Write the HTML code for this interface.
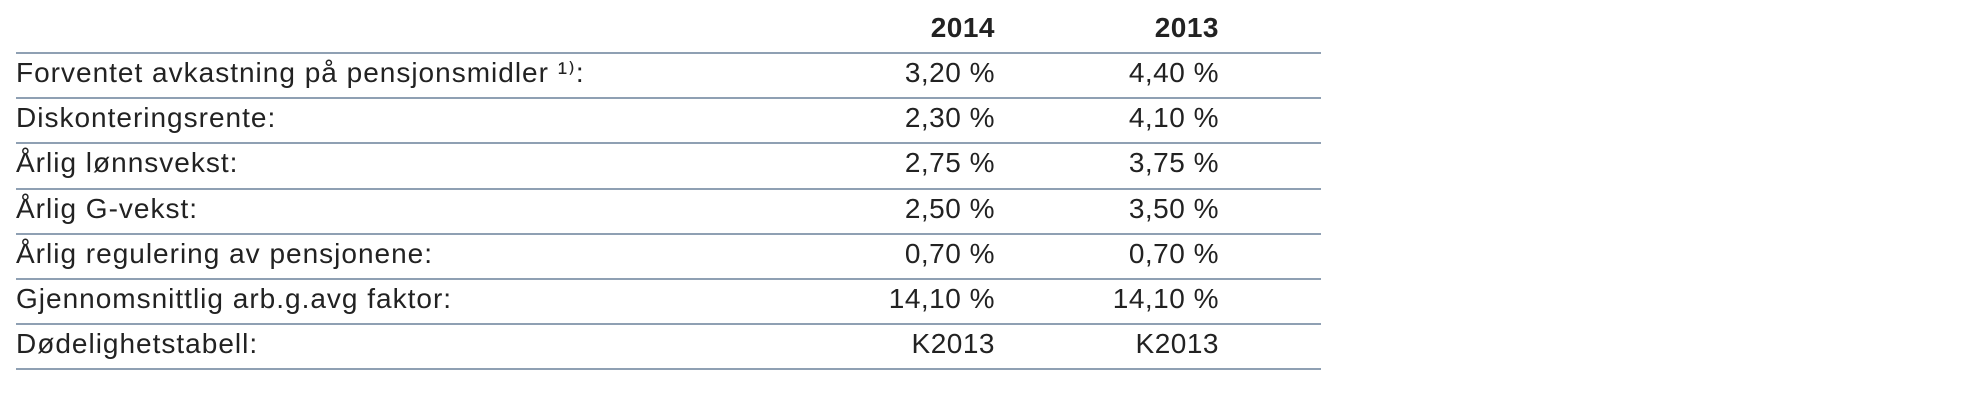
<!DOCTYPE html>
<html><head><meta charset="utf-8"><style>
body{margin:0;width:1985px;height:403px;background:#fff;overflow:hidden;font-family:"Liberation Sans",sans-serif;color:#222}
.t{position:absolute;font-size:28px;white-space:nowrap;line-height:1;letter-spacing:1px}
.r{text-align:right;letter-spacing:0.5px}
.h{font-weight:bold}
.ln{position:absolute;left:16px;width:1305px;height:2px;background:#8fa0b3}
</style></head><body>
<div id="root"></div>
<script>
const labels=["Forventet avkastning på pensjonsmidler ¹⁾:","Diskonteringsrente:","Årlig lønnsvekst:","Årlig G-vekst:","Årlig regulering av pensjonene:","Gjennomsnittlig arb.g.avg faktor:","Dødelighetstabell:"];
const years=["2014","2013"];
const col2014=["3,20 %","2,30 %","2,75 %","2,50 %","0,70 %","14,10 %","K2013"];
const col2013=["4,40 %","4,10 %","3,75 %","3,50 %","0,70 %","14,10 %","K2013"];
const root=document.getElementById('root');
const rightEdges=[995,1219];
function txt(s,x,y,cls,right){const d=document.createElement('div');d.className='t '+cls;d.textContent=s;d.style.top=(y-25)+'px';
if(right){d.style.right=(1985-x)+'px';}else d.style.left=x+'px';root.appendChild(d);return d;}
years.forEach((y,i)=>{const d=txt(y,rightEdges[i],39,'h r',true);

});
for(let k=0;k<=labels.length;k++){const l=document.createElement('div');l.className='ln';l.style.top=(52+45.2*k)+'px';


root.appendChild(l);}
labels.forEach((lab,k)=>{const by=52+45.2*k+32;
const a=txt(lab,16,by,'',false);


const b=txt(col2014[k],rightEdges[0],by,'r',true);


const c=txt(col2013[k],rightEdges[1],by,'r',true);

});
</script>
</body></html>
